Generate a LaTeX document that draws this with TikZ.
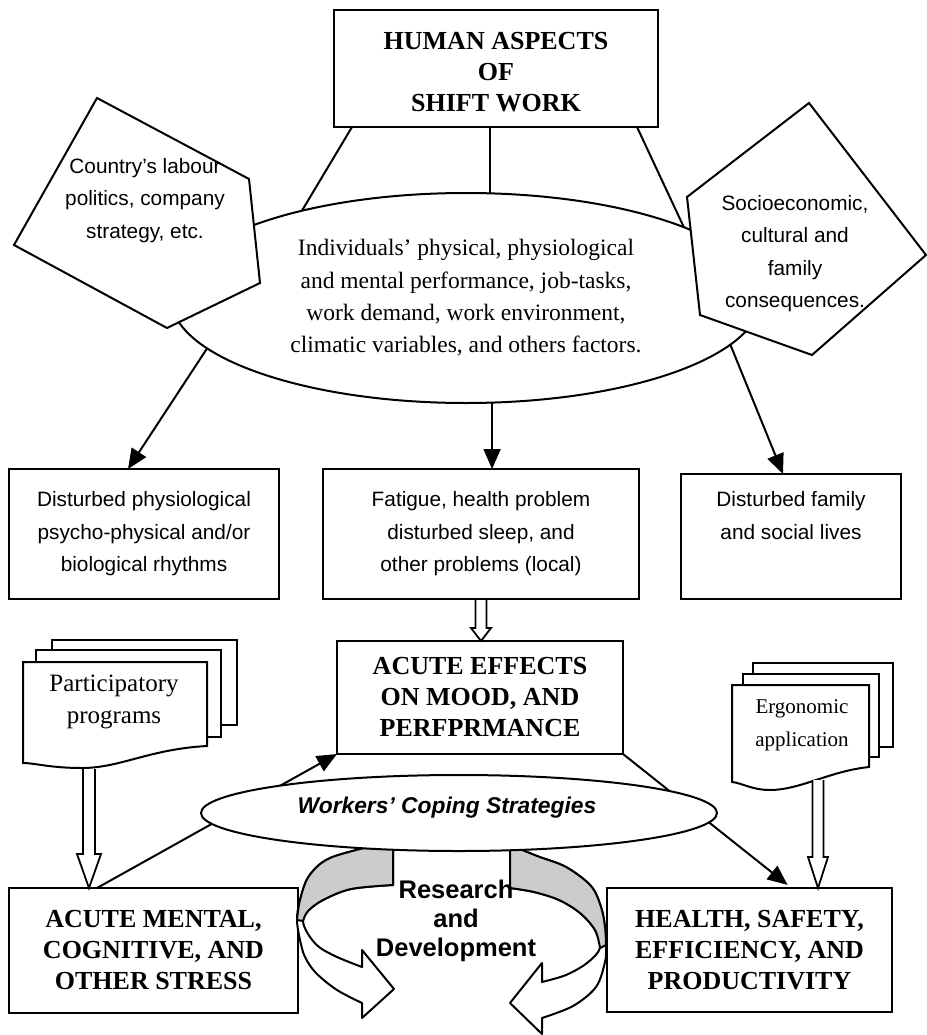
\documentclass[tikz,border=0pt]{standalone}
\usepackage{fontspec}
\setmainfont{Liberation Serif}
\newfontfamily\arialf{Liberation Sans}
\usetikzlibrary{shapes.geometric,arrows.meta,calc}

\tikzset{
 ln/.style={line width=2pt, line join=miter},
 boxn/.style={draw, line width=2.2pt, rectangle, inner sep=0pt, outer sep=0pt, align=center},
 sanstext/.style={font=\arialf\fontsize{20.8}{32.5}\selectfont, align=center},
 boldtext/.style={font=\bfseries\fontsize{26}{31}\selectfont, align=center},
 arr/.style={line width=2pt, -{Triangle[length=20pt,width=17pt]}},
 hollowline/.style={line width=1.8pt, fill=white, line join=miter},
 docsheet/.style={draw, fill=white, line width=2pt, line join=miter},
 ucurve/.style={draw, fill=white, line width=2pt, line join=round},
 ugray/.style={draw, fill=black!20, line width=2pt, line join=round},
}

% #1 start, #2 tip, #3 half shaft width, #4 half head width, #5 head length
\newcommand{\hollowarrow}[5]{%
  \draw[hollowline] ($(#1)+(-#3,1.2)$) -- ($(#2)+(-#3,-#5)$) -- ($(#2)+(-#4,-#5)$) -- (#2)
    -- ($(#2)+(#4,-#5)$) -- ($(#2)+(#3,-#5)$) -- ($(#1)+(#3,1.2)$);
}

\begin{document}
\begin{tikzpicture}[x=1pt,y=-1pt]
\useasboundingbox (0,0) rectangle (926,1035);

% ---------- top part ----------
\node[boxn, boldtext, minimum width=324pt, minimum height=117pt] (top) at (496,68.5)
  {\rule{0pt}{25pt}HUMAN ASPECTS\\OF\\SHIFT WORK};

\node[ellipse, draw, line width=2pt, fill=white, minimum width=590pt, minimum height=210pt,
  inner sep=0pt, outer sep=0pt, align=center, font=\fontsize{23.5}{32.3}\selectfont] (ell) at (466,298)
  {Individuals’ physical, physiological\\and mental performance, job-tasks,\\work demand, work environment,\\climatic variables, and others factors.};

\draw[ln] ($(top.south west)+(18,0)$) -- (ell.152);
\path ($(top.south)+(-6,0)$) coordinate (vtop);
\draw[ln] (vtop) -- (vtop |- ell.north);
\draw[ln] ($(top.south east)+(-21,0)$) -- (ell.18);

% pentagons
\draw[ln, fill=white] (97,98) -- (249,179) -- (260,283) -- (167,328) -- (14,245) -- cycle;
\node[sanstext] (ctry) at (145,200.5) {Country’s labour\\politics, company\\strategy, etc.};
\draw[ln, fill=white] (809,103) -- (926,255) -- (812,355) -- (700,315) -- (687,197) -- cycle;
\node[sanstext] (socio) at (795,253.5) {Socioeconomic,\\cultural and\\family\\consequences.};

% middle boxes
\node[boxn, sanstext, minimum width=270pt, minimum height=130pt] (lbox) at (144,534)
  {Disturbed physiological\\psycho-physical and/or\\biological rhythms};
\node[boxn, sanstext, minimum width=316pt, minimum height=130pt] (mbox) at (481,534)
  {Fatigue, health problem\\disturbed sleep, and\\other problems (local)};
\node[boxn, sanstext, minimum width=220pt, minimum height=125pt] (rbox) at (791,536.5)
  {Disturbed family\\and social lives\\\strut};

\draw[arr] (ell.191) -- ($(lbox.north)+(-16,0)$);
\draw[arr] (ell.284) -- (ell.284 |- mbox.north);
\draw[arr] (ell.350) -- ($(rbox.north)+(-8,0)$);

% ---------- lower part ----------
\node[boxn, boldtext, minimum width=286pt, minimum height=113pt] (aeff) at (480,697.5)
  {ACUTE EFFECTS\\ON MOOD, AND\\PERFPRMANCE};
\node[boxn, boldtext, minimum width=289pt, minimum height=125pt] (amen) at (153.5,950.5)
  {ACUTE MENTAL,\\COGNITIVE, AND\\OTHER STRESS};
\node[boxn, boldtext, minimum width=285pt, minimum height=124pt] (hlth) at (749.5,950)
  {HEALTH, SAFETY,\\EFFICIENCY, AND\\PRODUCTIVITY};

\coordinate (t1) at (mbox.south |- aeff.north);
\hollowarrow{mbox.south}{t1}{5.5}{10}{13}

% document stacks
\draw[docsheet] (52,640) rectangle (237,725);
\draw[docsheet] (36,650) rectangle (221,737);
\draw[docsheet] (23,662) -- (207,662) -- (207,746) .. controls (150,749) and (120,768) .. (82,768)
  .. controls (50,768) and (35,763) .. (23,763) -- cycle;
\node[font=\fontsize{25}{32}\selectfont, align=center] (ppt) at (114,702) {Participatory\\programs};
\coordinate (ppbot) at (89,768);

\draw[docsheet] (753,663) rectangle (893,747);
\draw[docsheet] (743,674) rectangle (879,757);
\draw[docsheet] (732,685) -- (869,685) -- (869,767) .. controls (830,771) and (800,790) .. (770,790)
  .. controls (752,790) and (742,783) .. (732,782) -- cycle;
\node[font=\fontsize{21}{33}\selectfont, align=center] (erg) at (802,725.5) {Ergonomic\\application};
\coordinate (ergbot) at (818,779);

\coordinate (t2) at (ppbot |- amen.north);
\hollowarrow{ppbot}{t2}{6}{12}{34}
\coordinate (t3) at (ergbot |- hlth.north);
\hollowarrow{ergbot}{t3}{5.5}{10}{31}

% connectors passing behind the coping ellipse
\draw[arr] ($(amen.north west)+(88,0)$) -- (aeff.south west);
\draw[arr, shorten >=5pt] (aeff.south east) -- ($(hlth.north)+(42,0)$);

% curved arrows (Research and Development)
\draw[ucurve] plot[smooth, tension=0.55] coordinates {(377,845) (330,858) (309,876) (300,900) (297,920) (300,940) (305,957) (316,973) (337,990) (362,1003)}
  -- (362,1018) -- (394,989) -- (362,950)
  -- plot[smooth, tension=0.55] coordinates {(362,967) (337,957) (319,947) (308,934) (303,921) (308,911) (323,900) (351,889) (393,885)}
  -- (393,845) -- cycle;
\draw[ugray] plot[smooth, tension=0.55] coordinates {(377,845) (330,858) (309,876) (300,900) (297,920)}
  -- plot[smooth, tension=0.55] coordinates {(303,921) (308,911) (323,900) (351,889) (393,885)}
  -- (393,845) -- cycle;

\draw[ucurve] plot[smooth, tension=0.55] coordinates {(510,845) (537,856) (566,867) (591,886) (601,907) (605,927) (606,947) (605,962) (596,987) (573,1006) (542,1018)}
  -- (542,1034) -- (510,1003) -- (542,963)
  -- plot[smooth, tension=0.55] coordinates {(542,982) (566,975) (587,963) (600,948) (595,930) (580,913) (559,900) (534,892) (510,888)}
  -- cycle;
\draw[ugray] plot[smooth, tension=0.55] coordinates {(510,845) (537,856) (566,867) (591,886) (601,907) (605,927) (606,945)}
  -- plot[smooth, tension=0.55] coordinates {(600,948) (595,930) (580,913) (559,900) (534,892) (510,888)}
  -- cycle;

\node[ellipse, draw, fill=white, line width=2pt, minimum width=516pt, minimum height=76pt,
  inner sep=0pt, outer sep=0pt] (wcs) at (459,813) {};
\node[font=\arialf\bfseries\itshape\fontsize{22.8}{26}\selectfont] (wcst) at (447,808) {Workers’ Coping Strategies};

\node[font=\arialf\bfseries\fontsize{25.5}{29}\selectfont, align=center] (rd) at (456,921) {Research\\and\\Development};
\end{tikzpicture}
\end{document}
